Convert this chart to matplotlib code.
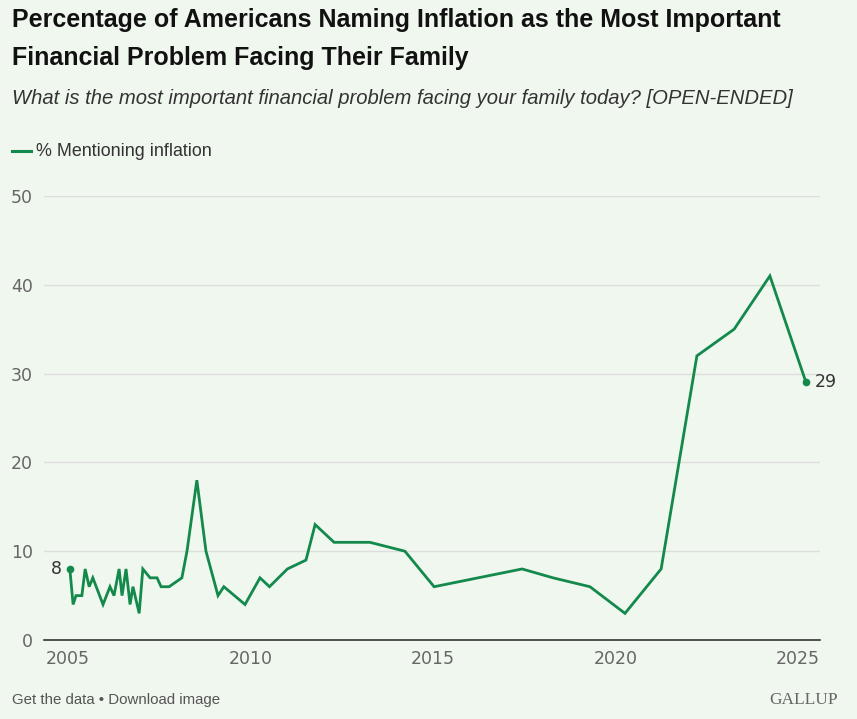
import matplotlib.pyplot as plt

# survey dates as decimal years
years = [
    2005.05, 2005.14, 2005.22, 2005.38, 2005.47, 2005.58, 2005.68, 2005.96,
    2006.15, 2006.26, 2006.40, 2006.48, 2006.59, 2006.70, 2006.78, 2006.95,
    2007.05, 2007.25, 2007.44, 2007.55, 2007.77, 2008.12, 2008.26, 2008.53,
    2008.78, 2009.11, 2009.27, 2009.85, 2010.26, 2010.52, 2011.01, 2011.52,
    2011.77, 2012.29, 2013.27, 2014.23, 2015.03, 2017.44, 2018.29, 2019.30,
    2020.26, 2021.25, 2022.23, 2023.25, 2024.23, 2025.22,
]
pct_inflation = [
    8, 4, 5, 5, 8, 6, 7, 4,
    6, 5, 8, 5, 8, 4, 6, 3,
    8, 7, 7, 6, 6, 7, 10, 18,
    10, 5, 6, 4, 7, 6, 8, 9,
    13, 11, 11, 10, 6, 8, 7, 6,
    3, 8, 32, 35, 41, 29,
]
y_ticks = [0, 10, 20, 30, 40, 50]
x_ticks = [2005, 2010, 2015, 2020, 2025]

BG = "#f0f7ef"
GREEN = "#13894c"

W, H = 857, 719
fig = plt.figure(figsize=(W / 100, H / 100), dpi=100, facecolor=BG)
ax = fig.add_axes([44 / W, 1 - 640 / H, (820 - 44) / W, (640 - 196) / H])
ax.set_facecolor(BG)

ax.plot(years, pct_inflation, color=GREEN, lw=2.0, solid_joinstyle="miter")
ax.plot([years[0], years[-1]], [pct_inflation[0], pct_inflation[-1]], "o",
        color=GREEN, ms=4.5)
ax.annotate(str(pct_inflation[0]), (years[0], pct_inflation[0]), xytext=(-6, 0),
            textcoords="offset points", ha="right", va="center", fontsize=12.5, color="#333333")
ax.annotate(str(pct_inflation[-1]), (years[-1], pct_inflation[-1]), xytext=(6, 0),
            textcoords="offset points", ha="left", va="center", fontsize=12.5, color="#333333")

x0 = 2005 - 24 / 36.5
x1 = 2005 + 752 / 36.5
ax.set_xlim(x0, x1)
ax.set_ylim(0, 50)
ax.set_yticks(y_ticks)
ax.set_xticks(x_ticks)
ax.grid(axis="y", color="#dcdedb", lw=1)
ax.set_axisbelow(True)
for s in ["top", "right", "left"]:
    ax.spines[s].set_visible(False)
ax.spines["bottom"].set_color("#333333")
ax.spines["bottom"].set_linewidth(1.2)
ax.tick_params(axis="both", length=0, labelsize=12.5, labelcolor="#666666")
ax.tick_params(axis="y", pad=8)
ax.tick_params(axis="x", pad=7)

fig.text(12 / W, 1 - 20 / H, "Percentage of Americans Naming Inflation as the Most Important",
         fontsize=18, fontweight="bold", family="Liberation Sans", color="#111111", va="center")
fig.text(12 / W, 1 - 58 / H, "Financial Problem Facing Their Family",
         fontsize=18, fontweight="bold", family="Liberation Sans", color="#111111", va="center")
fig.text(12 / W, 1 - 98 / H,
         "What is the most important financial problem facing your family today? [OPEN-ENDED]",
         fontsize=14.6, style="italic", family="Liberation Sans", color="#333333", va="center")

fig.add_artist(plt.Line2D([12 / W, 31 / W], [1 - 151 / H] * 2, color=GREEN, lw=2.2))
fig.text(36 / W, 1 - 151 / H, "% Mentioning inflation", fontsize=12.9,
         family="Liberation Sans", color="#333333", va="center")

fig.text(12 / W, 1 - 700 / H, "Get the data \u2022 Download image", fontsize=10.8,
         family="Liberation Sans", color="#555555", va="center")
fig.text(838 / W, 1 - 700 / H, "GALLUP", fontsize=12.5, family="Liberation Serif",
         color="#666666", va="center", ha="right")

fig.savefig("out.png", dpi=100, facecolor=BG)
